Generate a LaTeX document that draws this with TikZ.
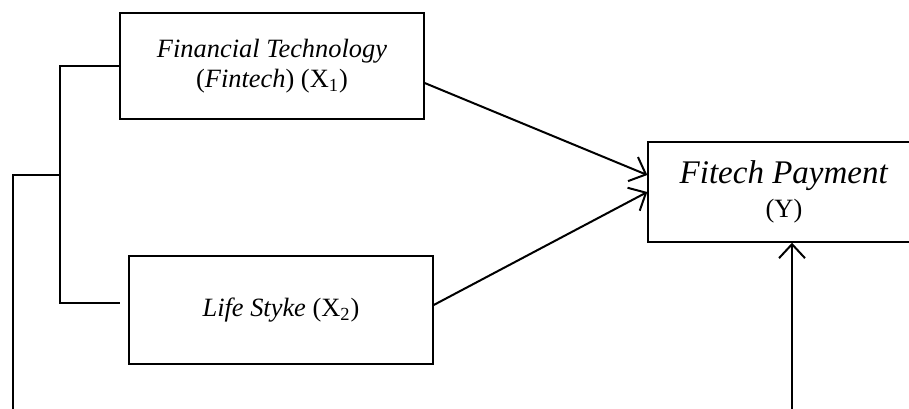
\documentclass[tikz,border=0pt]{standalone}
\usepackage{fontspec}
\setmainfont{Liberation Serif}
\usetikzlibrary{arrows.meta,positioning}

\begin{document}
\begin{tikzpicture}[
    x=0.5pt, y=-0.5pt,
    font=\fontsize{13.2}{15}\selectfont,
    block/.style={rectangle, draw, line width=0.7pt, minimum width=152pt,
                  minimum height=53pt, align=center, inner sep=0pt},
    bigblock/.style={block, minimum width=136pt, minimum height=50pt},
    link/.style={line width=1pt},
    line/.style={-{Straight Barb[length=7pt, width=13pt, line width=1pt]}, line width=1pt}
]
  \useasboundingbox (0,0) rectangle (909,408);

  \node[block] (fin) at (272,66) {\textit{Financial Technology}\\(\textit{Fintech}) (X\textsubscript{1})};
  \node[block, minimum height=54pt] (life) at (281,310) {\textit{Life Styke} (X\textsubscript{2})};
  \node[bigblock] (pay) at (784,192) {{\fontsize{16.5}{19}\selectfont\textit{Fitech Payment}}\\[2pt](Y)};

  % bracket on the left
  \coordinate (bt) at (60,66);
  \coordinate (bb) at (60,303);
  \coordinate (bend) at (120,303);
  \coordinate (bmid) at (60,175);
  \coordinate (outer) at (13,175);
  \coordinate (outerend) at (13,410);
  \coordinate (rend) at (792,410);

  \draw[link] (fin.west) -- (bt) -- (bb) -- (bend);
  \draw[link] (bmid) -- (outer) -- (outerend);

  \draw[line] ([yshift=-8.5pt]fin.east) -- ([yshift=8.5pt]pay.west);
  \draw[line] ([yshift=2.5pt]life.east) -- (pay.west);
  \draw[line] (rend) -- (rend |- pay.south);
\end{tikzpicture}
\end{document}
